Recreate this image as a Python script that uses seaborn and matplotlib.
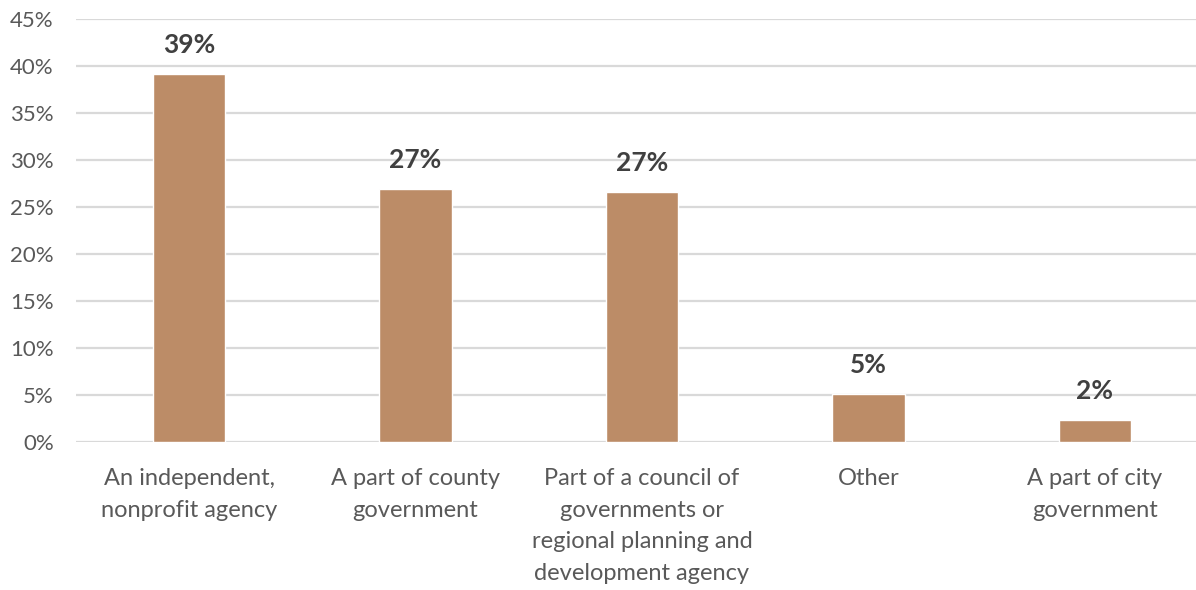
import matplotlib
matplotlib.use("Agg")
import matplotlib.pyplot as plt
import seaborn as sns
import pandas as pd
from matplotlib.ticker import FuncFormatter

categories = [
    "An independent,\nnonprofit agency",
    "A part of county\ngovernment",
    "Part of a council of\ngovernments or\nregional planning and\ndevelopment agency",
    "Other",
    "A part of city\ngovernment",
]
values = [39.1, 26.9, 26.6, 5.1, 2.3]
value_labels = ["39%", "27%", "27%", "5%", "2%"]
y_ticks = [0, 5, 10, 15, 20, 25, 30, 35, 40, 45]

sns.set_theme(style="white")
plt.rcParams['font.family'] = ['Lato', 'DejaVu Sans']

df = pd.DataFrame({"category": categories, "value": values})

fig = plt.figure(figsize=(11.96, 5.90), dpi=100)
ax = fig.add_axes([76 / 1196, 1 - 442 / 590, (1208 - 76) / 1196, (442 - 19) / 590])

sns.barplot(data=df, x="category", y="value", color="#BC8C67", saturation=1,
            width=0.32, ax=ax, zorder=3)

ax.set_ylim(0, 45)
ax.set_yticks(y_ticks)
ax.yaxis.set_major_formatter(FuncFormatter(lambda v, p: f"{int(v)}%"))
ax.set_xlim(-0.5, len(categories) - 0.5)
ax.grid(axis="y", color="#D9D9D9", linewidth=1.6, zorder=0)
ax.set_axisbelow(True)
for s in ax.spines.values():
    s.set_visible(False)
ax.set_xlabel("")
ax.set_ylabel("")

ax.tick_params(axis="y", length=0, pad=16, labelsize=16, labelcolor="#595959")
ax.tick_params(axis="x", length=0, pad=19)
for lbl in ax.get_xticklabels():
    lbl.set_fontsize(17)
    lbl.set_color("#595959")
    lbl.set_verticalalignment("top")
    lbl.set_linespacing(1.62)

for i, (v, t) in enumerate(zip(values, value_labels)):
    ax.annotate(t, (i, v), xytext=(0, 17), textcoords="offset pixels",
                ha="center", va="bottom", fontsize=19, fontweight="bold",
                color="#404040")

fig.savefig("out.png", dpi=100)
